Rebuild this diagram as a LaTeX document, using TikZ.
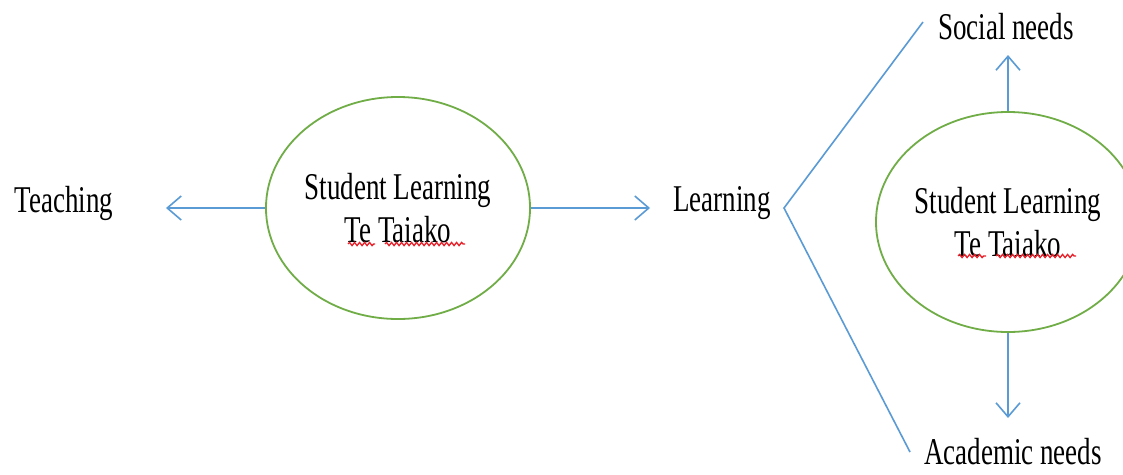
\documentclass[tikz,border=0pt]{standalone}
\usepackage{fontspec}
\setmainfont{Liberation Serif}
\usetikzlibrary{arrows.meta,shapes.geometric,decorations.pathmorphing}
\definecolor{ringgreen}{HTML}{70AD47}
\definecolor{linkblue}{HTML}{5B9BD5}
\definecolor{spellred}{HTML}{E8202A}
% tall, narrow lettering
\newcommand\tallText[1]{\scalebox{1}[1.4]{#1}}
\tikzset{
  lbl/.style={inner sep=0pt, font=\fontsize{27}{40}\selectfont},
  ring/.style={ellipse, draw=ringgreen, line width=1.8pt, inner sep=0pt,
               align=center, font=\fontsize{27}{43}\selectfont},
  link/.style={draw=linkblue, line width=1.6pt},
  arr/.style={link, -{Straight Barb[length=14pt,width=24pt,line width=1.6pt]}},
  squiggle/.style={draw=spellred, line width=1.3pt,
                   decorate, decoration={snake, amplitude=1.6pt, segment length=5pt}}
}
\begin{document}
\begin{tikzpicture}[x=1pt,y=-1pt]
  \clip (0,0) rectangle (1123,474);
  \fill[white] (0,0) rectangle (1123,474);

  % left part
  \node[ring, minimum width=252pt, minimum height=222pt] (L) at (398,208)
    {\tallText{Student Learning}\\ \tallText{Te Taiako}};
  \node[lbl] (teach) at (64,203) {\tallText{Teaching}};
  \node[lbl] (learn) at (722,203) {\tallText{Learning}};
  \coordinate (tipT) at (166,205);
  \coordinate (tipL) at (650,205);
  \draw[arr] (L.west) -- (L.west -| tipT);
  \draw[arr] (L.east) -- (L.east -| tipL);

  % fork after "Learning"
  \coordinate (fork) at (784,208);
  \coordinate (forkTop) at (923,22);
  \coordinate (forkBot) at (910,452);
  \draw[link] (forkTop) -- (fork) -- (forkBot);

  % right part
  \node[ring, minimum width=250pt, minimum height=220pt] (R) at (1008,222)
    {\tallText{Student Learning}\\ \tallText{Te Taiako}};
  \node[lbl] (social) at (1006,27) {\tallText{Social needs}};
  \node[lbl] (acad) at (1013,452) {\tallText{Academic needs}};
  \coordinate (tipS) at (1008,55);
  \coordinate (tipA) at (1008,418);
  \draw[arr] (R.north) -- (tipS);
  \draw[arr] (R.south) -- (tipA);

  % spell-check underlines
  \draw[squiggle] (348,244) -- (375,244);
  \draw[squiggle] (385,244) -- (465,244);
  \draw[squiggle] (958,256) -- (986,256);
  \draw[squiggle] (996,256) -- (1076,256);
\end{tikzpicture}
\end{document}
